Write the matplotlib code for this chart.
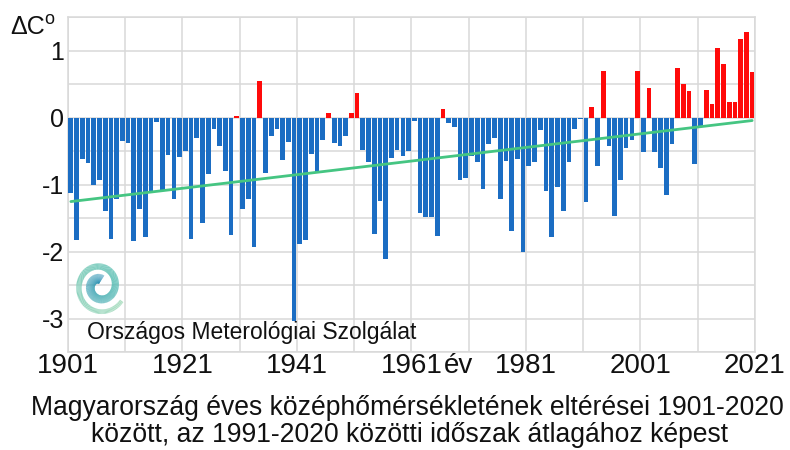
import numpy as np
import matplotlib
matplotlib.use("Agg")
import matplotlib.pyplot as plt
from matplotlib.collections import LineCollection
from matplotlib.transforms import blended_transform_factory

plt.rcParams['font.family'] = ['Liberation Sans', 'DejaVu Sans']

years = list(range(1901, 2021))
anomalies = [
    -1.12, -1.83, -0.62, -0.68, -1.00, -0.94, -1.40, -1.81, -1.22, -0.35,   # 1901-1910
    -0.38, -1.85, -1.37, -1.79, -1.09, -0.06, -1.08, -0.56, -1.21, -0.59,   # 1911-1920
    -0.50, -1.81, -0.30, -1.57, -0.84, -0.17, -0.42, -0.80, -1.76, 0.02,    # 1921-1930
    -1.37, -1.22, -1.94, 0.55, -0.83, -0.28, -0.17, -0.63, -0.36, -3.04,    # 1931-1940
    -1.89, -1.83, -0.55, -0.81, -0.33, 0.07, -0.38, -0.43, -0.27, 0.07,     # 1941-1950
    0.37, -0.48, -0.67, -1.74, -1.24, -2.11, -0.60, -0.48, -0.57, -0.50,    # 1951-1960
    -0.05, -1.42, -1.49, -1.49, -1.77, 0.12, -0.08, -0.14, -0.93, -0.90,    # 1961-1970
    -0.58, -0.67, -1.06, -0.40, -0.31, -1.22, -0.65, -1.70, -0.62, -2.00,   # 1971-1980
    -0.73, -0.67, -0.19, -1.09, -1.79, -1.03, -1.40, -0.67, -0.17, -0.02,   # 1981-1990
    -1.26, 0.15, -0.73, 0.70, -0.42, -1.47, -0.93, -0.46, -0.34, 0.69,      # 1991-2000
    -0.51, 0.44, -0.51, -0.75, -1.16, -0.40, 0.74, 0.50, 0.40, -0.70,       # 2001-2010
    -0.12, 0.41, 0.20, 1.03, 0.80, 0.23, 0.23, 1.17, 1.27, 0.68,            # 2011-2020
]
xtick_years = [1901, 1921, 1941, 1961, 1981, 2001, 2021]
ytick_values = [-3, -2, -1, 0, 1]

title_line1 = "Magyarország éves középhőmérsékletének eltérései 1901-2020"
title_line2 = "között, az 1991-2020 közötti időszak átlagához képest"
source_text = "Országos Meterológiai Szolgálat"

W, H = 790, 450
fig = plt.figure(figsize=(W / 100, H / 100), dpi=100)
L, R, T, B = 68, 755, 17, 352
ax = fig.add_axes([L / W, 1 - B / H, (R - L) / W, (B - T) / H])

BLUE = '#1b6dc3'
RED = '#ff0a0a'
GREEN = '#45c582'
GRID = '#d9d9d9'
TXT = '#111111'

x = np.array(years, dtype=float)
y = np.array(anomalies)
colors = [RED if v > 0 else BLUE for v in y]
ax.bar(x + 0.08, y, width=0.82, align='edge', color=colors, edgecolor='none', zorder=3)

# linear trend
coef = np.polyfit(x + 0.5, y, 1)
xt = np.array([years[0] + 0.5, years[-1] + 0.5])
ax.plot(xt, np.polyval(coef, xt), color=GREEN, lw=2.0, zorder=4, solid_capstyle='round')

ax.set_xlim(1901, 2021)
ax.set_ylim(-3.5, 1.5)
ax.set_xticks(np.arange(1901, 2022, 10))
ax.set_xticklabels([str(t) if t in xtick_years else '' for t in range(1901, 2022, 10)],
                   fontsize=20, color=TXT)
ax.set_yticks(np.arange(-3.5, 1.51, 0.5))
ax.set_yticklabels([('%d' % v if v in ytick_values else '') for v in np.arange(-3.5, 1.51, 0.5)],
                   fontsize=18, color=TXT)
ax.tick_params(length=0, pad=3)
ax.tick_params(axis='x', pad=1)
ax.grid(True, color=GRID, lw=1.1, zorder=0)
for s in ax.spines.values():
    s.set_color(GRID)
    s.set_linewidth(1.1)
ax.set_axisbelow(True)

# 'év' next to 1961, aligned with tick labels
trans = blended_transform_factory(ax.transData, ax.transAxes)
ax.annotate('év', xy=(1966.6, 0), xycoords=trans, xytext=(0, -1), textcoords='offset points',
            ha='left', va='top', fontsize=20, color=TXT, annotation_clip=False)

# unit label
fig.text(10 / W, 1 - 27 / H, 'ΔC', fontsize=18, ha='left', va='center', color=TXT)
fig.text(44 / W, 1 - 20 / H, 'o', fontsize=13, ha='left', va='center', color=TXT)

# source
fig.text(87 / W, 1 - 333 / H, source_text, fontsize=16.5, ha='left', va='center', color=TXT)

# title
fig.text(407 / W, 1 - 408 / H, title_line1, fontsize=19.1, ha='center', va='center', color=TXT)
fig.text(410 / W, 1 - 435 / H, title_line2, fontsize=19.1, ha='center', va='center', color=TXT)

# logo (spiral)
lax = fig.add_axes([72 / W, 1 - 316 / H, 56 / W, 60 / H])
lax.set_xlim(-1.1, 1.1)
lax.set_ylim(-1.1, 1.1)
lax.axis('off')
th = np.linspace(0.3, 3.5 * np.pi, 240)
r = 0.22 + 0.072 * th
px = r * np.cos(th + 1.0)
py = r * np.sin(th + 1.0)
pts = np.array([px, py]).T.reshape(-1, 1, 2)
segs = np.concatenate([pts[:-1], pts[1:]], axis=1)
cmap = matplotlib.colors.LinearSegmentedColormap.from_list('lg', ['#2a8fb5', '#5cc0b5', '#b0e0c4'])
lc = LineCollection(segs, cmap=cmap, linewidths=np.linspace(7, 3, len(segs)))
lc.set_array(np.linspace(0, 1, len(segs)))
lax.add_collection(lc)

fig.savefig('out.png', dpi=100, facecolor='white')
